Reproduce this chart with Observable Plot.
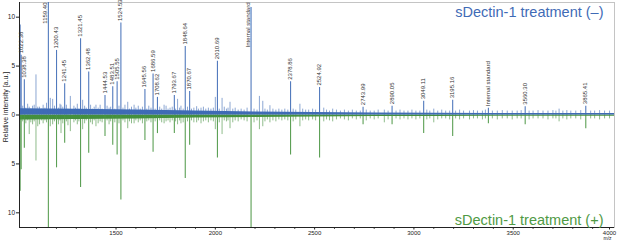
<!DOCTYPE html>
<html><head><meta charset="utf-8">
<script src="https://cdn.jsdelivr.net/npm/d3@7"></script>
<script src="https://cdn.jsdelivr.net/npm/@observablehq/plot@0.6"></script>
<style>body{margin:0;background:#fff}</style>
</head><body><div id="chart"></div>
<script>
// ---- scales / ticks ----
const xDomain = [1014, 4010];
const yDomain = [-11.5, 11.5];
const xMajorTicks = [1500, 2000, 2500, 3000, 3500];
const xLastTick = [4000];
const xMinorTicks = [1100,1200,1300,1400,1600,1700,1800,1900,2100,2200,2300,2400,2600,2700,2800,2900,3100,3200,3300,3400,3600,3700,3800,3900];
const yTicks = [-10, -5, 0, 5, 10];
const titleTop = "sDectin-1 treatment (–)";
const titleBottom = "sDectin-1 treatment (+)";
const yTitle = "Relative intensity [a.u.]";
const xTitle = "m/z";

// ---- labelled peaks (label above peak) ----
const labelMz    = [1022.38,1038.38,1200.43,1241.45,1321.45,1362.48,1444.53,1483.51,1505.55,1524.53,1645.56,1686.59,1708.62,1793.67,1848.64,1870.67,2010.69,2378.86,2524.92,2743.99,2890.05,3049.11,3195.16,3375,3560.30,3865.41];
const labelText  = ["1022.38","1038.38","1200.43","1241.45","1321.45","1362.48","1444.53","1483.51","1505.55","1524.53","1645.56","1686.59","1708.62","1793.67","1848.64","1870.67","2010.69","2378.86","2524.92","2743.99","2890.05","3049.11","3195.16","Internal standard","3560.30","3865.41"];
const labelBlue  = [6.1,3.6,6.6,3.2,7.8,4.4,2.0,2.9,3.4,9.4,2.6,4.2,1.8,2.0,7.0,2.4,5.5,3.4,2.8,0.8,0.9,1.4,1.5,0.7,0.85,0.9];
const labelGreen = [5.6,3.4,5.4,2.9,7.4,3.9,2.2,3.1,4.1,8.7,2.6,3.8,1.9,1.9,6.5,3.1,4.4,4.1,4.4,1.0,1.0,1.9,2.2,0.9,1.0,1.4];

// ---- labelled peaks reaching the top (label beside peak) ----
const topMz    = [1159.40, 2180];
const topText  = ["1159.40", "Internal standard"];
const topBlue  = [14, 11.0];
const topGreen = [14, 14];

// ---- unlabelled peaks: [m/z, blue, green] ----
const minorPeaks = [
 [1019,9.2,7.8],[1063,0.8,2.0],[1080,0.9,1.0],[1097,4.1,4.7],[1106,0.8,1.2],[1169,1.7,1.2],[1181,1.6,1.0],
 [1223,1.0,1.9],[1270,1.9,1.7],[1332,1.5,1.5],[1399,1.0,1.2],[1559,1.3,1.4],[1591,1.0,0.9],[1742,1.0,0.9],
 [1810,1.6,1.0],[1827,0.9,0.9],[1906,0.85,0.8],[1928,0.7,0.9],[2000,1.8,1.5],[2034,1.7,2.0],[2074,1.3,1.4],
 [2222,1.9,1.5],[2239,1.4,1.2],[2275,0.95,0.8],[2426,1.1,1.2],[2546,0.7,0.7],[2591,0.6,0.7],[2851,0.5,0.8],
 [3100,0.6,0.8],[3731,0.6,0.7]
];

// ---- baseline spikes: [m/z, blue, green] ----
const baselinePeaks = [
 [1030,0.9,0.7],[1046,0.7,0.9],[1055,1.1,0.6],[1071,0.6,0.8],[1088,1.0,0.7],[1115,0.8,1.0],[1124,0.6,0.6],[1133,1.0,0.9],[1142,0.7,0.6],[1150,1.2,0.8],[1190,0.9,0.7],[1210,0.7,1.0],[1218,1.1,0.6],[1232,0.8,0.9],[1250,1.0,0.7],[1258,0.6,1.1],[1288,0.9,0.8],[1296,0.7,0.6],[1305,1.1,1.0],[1313,0.6,0.7],[1342,0.9,0.9],[1350,0.7,0.6],[1372,1.0,0.8],[1381,0.6,1.0],[1390,0.8,0.6],[1410,0.7,0.9],[1420,1.0,0.7],[1430,0.6,0.8],[1455,0.9,0.6],[1465,0.7,1.0],[1473,0.8,0.7],[1494,0.6,0.8],[1515,0.9,0.9],[1535,0.7,0.6],[1545,1.0,0.8],[1568,0.6,0.7],[1578,0.8,0.9],
 [1600,0.7,0.6],[1612,0.9,0.8],[1622,0.6,0.6],[1633,0.8,0.9],[1655,0.6,0.7],[1665,0.9,0.6],[1676,0.7,0.8],[1697,0.6,0.7],[1720,0.8,0.6],[1730,0.6,0.8],[1752,0.9,0.7],[1762,0.6,0.6],[1772,0.7,0.8],[1783,0.8,0.6],[1800,0.6,0.7],[1820,0.7,0.6],[1838,0.6,0.8],[1860,0.8,0.7],[1880,0.6,0.6],[1892,0.7,0.8],[1915,0.6,0.6],[1940,0.8,0.7],[1952,0.6,0.6],[1965,0.7,0.8],[1978,0.6,0.6],[1990,0.7,0.7],[2020,0.6,0.8],[2045,0.8,0.6],[2056,0.6,0.7],[2064,0.7,0.6],[2088,0.6,0.8],
 [2100,0.7,0.6],[2115,0.5,0.7],[2130,0.6,0.5],[2145,0.5,0.6],[2160,0.7,0.7],[2195,0.6,0.8],[2210,0.5,0.6],[2250,0.6,0.7],[2262,0.5,0.5],[2290,0.6,0.6],[2305,0.5,0.7],[2320,0.6,0.5],[2335,0.5,0.6],[2350,0.6,0.5],[2365,0.5,0.6],[2392,0.6,0.7],[2405,0.5,0.5],[2440,0.6,0.6],[2455,0.5,0.5],[2470,0.5,0.6],[2490,0.6,0.5],[2505,0.5,0.6],[2560,0.5,0.5],[2575,0.4,0.6],
 [2610,0.5,0.5],[2630,0.4,0.4],[2650,0.5,0.5],[2670,0.4,0.6],[2690,0.5,0.4],[2710,0.4,0.5],[2730,0.4,0.4],[2760,0.5,0.6],[2780,0.4,0.4],[2800,0.4,0.5],[2820,0.5,0.4],[2870,0.4,0.5],[2910,0.4,0.4],[2930,0.5,0.5],[2950,0.4,0.4],[2970,0.4,0.5],[2990,0.5,0.4],[3010,0.4,0.5],[3030,0.4,0.4],[3065,0.5,0.5],[3080,0.4,0.4],[3120,0.4,0.5],[3140,0.5,0.4],[3160,0.4,0.4],[3180,0.4,0.5],[3210,0.4,0.4],[3230,0.5,0.5],[3250,0.4,0.4],[3280,0.4,0.5],[3300,0.45,0.4],[3320,0.4,0.4],[3345,0.4,0.5],[3360,0.5,0.4],[3395,0.4,0.4],[3420,0.4,0.5],[3445,0.45,0.4],[3470,0.4,0.4],[3495,0.4,0.5],[3520,0.4,0.4],[3540,0.45,0.4],[3580,0.4,0.5],[3600,0.4,0.4],[3625,0.45,0.4],[3650,0.4,0.4],[3675,0.4,0.5],[3700,0.45,0.4],[3715,0.4,0.4],[3750,0.4,0.4],[3770,0.45,0.5],[3790,0.4,0.4],[3815,0.4,0.4],[3840,0.45,0.5],[3890,0.4,0.4],[3910,0.4,0.4],[3935,0.45,0.5],[3960,0.4,0.4],[3985,0.4,0.4]
];

// ---- baseline noise band level ----
const noiseMz    = [1014,1300,1600,1900,2200,2500,2800,3100,3400,3700,4010];
const noiseBlue  = [0.65,0.6,0.5,0.4,0.3,0.25,0.2,0.18,0.16,0.15,0.15];
const noiseGreen = [0.5,0.45,0.4,0.3,0.25,0.2,0.16,0.15,0.14,0.13,0.13];

// ---- build tables ----
const blue = "#3f6bb6", green = "#45903e";
const labeled = labelMz.map((m,i)=>({m, b:labelBlue[i], g:labelGreen[i], t:labelText[i]}));
const tops = topMz.map((m,i)=>({m, b:topBlue[i], g:topGreen[i], t:topText[i]}));
const others = minorPeaks.concat(baselinePeaks).map(([m,b,g])=>({m,b,g}));
const noise = noiseMz.map((m,i)=>({m, b:noiseBlue[i], g:noiseGreen[i]}));

const chart = Plot.plot({
  width: 617, height: 241,
  marginLeft: 19, marginRight: 3, marginTop: 2, marginBottom: 14,
  x: {domain: xDomain, axis: null},
  y: {domain: yDomain, axis: null},
  style: {fontFamily: "Liberation Sans, Arial, sans-serif", background: "white", color: "#222"},
  marks: [
    Plot.frame({stroke: "#c4c4c4"}),
    // green (+) spectrum below zero
    Plot.areaY(noise, {x: "m", y1: 0, y2: d => -d.g, fill: green}),
    Plot.ruleX(others, {x: "m", y1: 0, y2: d => -d.g, stroke: green, strokeOpacity: 0.6, strokeWidth: 1, clip: true}),
    Plot.ruleX(labeled.concat(tops), {x: "m", y1: 0, y2: d => -d.g, stroke: "#4a9642", strokeOpacity: 0.9, strokeWidth: 1.1, clip: true}),
    // blue (-) spectrum above zero
    Plot.areaY(noise, {x: "m", y1: 0, y2: "b", fill: blue}),
    Plot.ruleX(others, {x: "m", y1: 0, y2: "b", stroke: blue, strokeOpacity: 0.6, strokeWidth: 1, clip: true}),
    Plot.ruleX(labeled.concat(tops), {x: "m", y1: 0, y2: "b", stroke: blue, strokeOpacity: 0.9, strokeWidth: 1.1, clip: true}),
    // axis lines
    Plot.ruleX([xDomain[0]], {stroke: "#222", strokeWidth: 1}),
    Plot.ruleY([yDomain[0]], {stroke: "#222", strokeWidth: 1}),
    Plot.axisX({ticks: xMajorTicks, tickSize: 2.5, tickPadding: 1, fontSize: 6, label: null, tickFormat: d => String(d)}),
    Plot.axisX({ticks: xLastTick, tickSize: 2.5, tickPadding: 1, fontSize: 6, label: null, tickFormat: d => String(d), dx: -3}),
    Plot.axisX({ticks: xMinorTicks, tickSize: 1.8, tickFormat: () => "", label: null}),
    Plot.axisY({ticks: yTicks, tickSize: 3, tickPadding: 1.5, fontSize: 6.5, label: null, tickFormat: d => String(Math.abs(d))}),
    // peak labels
    Plot.text(labeled, {x: "m", y: "b", text: "t", rotate: -90, textAnchor: "start", lineAnchor: "bottom", dy: -2, dx: 1.5, fontSize: 6, fill: "#333"}),
    Plot.text(tops, {x: "m", frameAnchor: "top", text: "t", rotate: -90, textAnchor: "end", lineAnchor: "bottom", dy: 0, dx: -1, fontSize: 6, fill: "#333"}),
    // titles
    Plot.text([titleTop], {frameAnchor: "top-right", dx: -11, dy: 4.5, textAnchor: "end", lineAnchor: "top", fontSize: 14.5, fill: blue}),
    Plot.text([titleBottom], {frameAnchor: "bottom-right", dx: -11, dy: -3, textAnchor: "end", lineAnchor: "bottom", fontSize: 14.5, fill: "#4f9a45"}),
    Plot.text([yTitle], {frameAnchor: "left", rotate: -90, textAnchor: "middle", dx: -14, dy: -8, fontSize: 7, fill: "#222"}),
    Plot.text([xTitle], {frameAnchor: "bottom-right", textAnchor: "middle", dx: -7, dy: 12.5, fontSize: 5, fill: "#222", lineAnchor: "bottom"})
  ]
});
document.getElementById("chart").appendChild(chart);
</script>
</body></html>
